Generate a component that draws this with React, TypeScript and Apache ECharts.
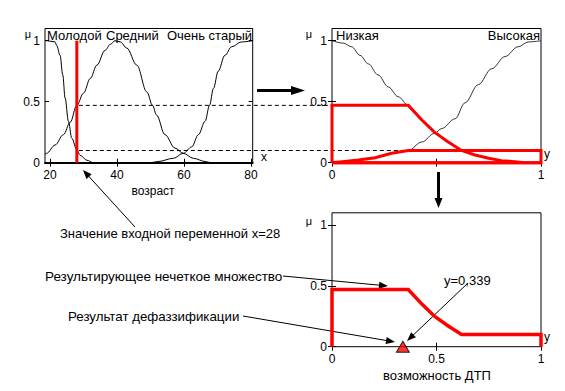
import React, { useEffect, useRef } from 'react';
import * as echarts from 'echarts';

// ---- data ----
const ageTicks = [20, 40, 60, 80];
const unitTicks = [0, 0.5, 1];
const inputAge = 28;
const cutLow = 0.47; // firing strength for "Низкая"
const cutHigh = 0.1; // firing strength for "Высокая"
const defuzzValue = 0.339;

const youngX = [18.5, 19, 21.5, 22, 23, 23.8, 24.5, 25.5, 26.5, 28, 29, 31, 33, 80.5];
const youngY = [1, 1, 0.99, 0.96, 0.88, 0.72, 0.53, 0.34, 0.2, 0.105, 0.06, 0.02, 0, 0];

const mediumX = [18.5, 19, 21.5, 24, 26, 28, 30, 32, 34, 36.4, 38, 39.4, 41, 42.9, 45.9, 48.9, 50.6, 51.8, 54.3, 57.3, 59.8, 62.8, 66.3, 68, 80.5];
const mediumY = [0.07, 0.077, 0.145, 0.23, 0.33, 0.47, 0.57, 0.69, 0.8, 0.92, 0.97, 1, 0.99, 0.94, 0.8, 0.58, 0.47, 0.39, 0.23, 0.12, 0.077, 0.036, 0.01, 0, 0];

const veryOldX = [18.5, 50, 52.3, 56.8, 59.8, 62.3, 64.3, 66.3, 67.6, 68.8, 70.2, 72.2, 74.2, 77.2, 80.5];
const veryOldY = [0, 0, 0.01, 0.036, 0.077, 0.13, 0.23, 0.34, 0.47, 0.61, 0.75, 0.88, 0.95, 0.99, 1];

const lowX = [0, 0.054, 0.094, 0.134, 0.174, 0.22, 0.27, 0.317, 0.365, 0.43, 0.49, 0.556, 0.62, 0.684, 0.75, 0.81, 0.876, 0.92, 1];
const lowY = [1, 0.98, 0.95, 0.88, 0.81, 0.72, 0.62, 0.54, 0.47, 0.35, 0.25, 0.17, 0.1, 0.063, 0.036, 0.017, 0.008, 0, 0];

const highX = [0, 0.06, 0.126, 0.206, 0.285, 0.365, 0.43, 0.49, 0.525, 0.589, 0.636, 0.7, 0.764, 0.828, 0.89, 0.94, 1];
const highY = [0, 0.01, 0.022, 0.04, 0.077, 0.1, 0.17, 0.24, 0.28, 0.36, 0.49, 0.64, 0.77, 0.87, 0.95, 0.99, 1];

const FONT = "'Liberation Sans', Arial, sans-serif";

const zip = (xs: number[], ys: number[]) => xs.map((x, i) => [x, ys[i]]);

function arrow(x1: number, y1: number, x2: number, y2: number, len: number, halfW: number, lineW: number) {
  const dx = x2 - x1;
  const dy = y2 - y1;
  const L = Math.hypot(dx, dy);
  const ux = dx / L;
  const uy = dy / L;
  const bx = x2 - ux * len;
  const by = y2 - uy * len;
  const px = -uy;
  const py = ux;
  return [
    { type: 'line', shape: { x1, y1, x2: bx + ux * 1, y2: by + uy * 1 }, style: { stroke: '#000', lineWidth: lineW } },
    {
      type: 'polygon',
      shape: { points: [[x2, y2], [bx + px * halfW, by + py * halfW], [bx - px * halfW, by - py * halfW]] },
      style: { fill: '#000' },
    },
  ];
}

function txt(text: string, x: number, y: number, size: number, align: string = 'left') {
  return {
    type: 'text',
    x,
    y,
    style: {
      text,
      fill: '#000',
      fontSize: size,
      fontFamily: FONT,
      align,
      verticalAlign: 'middle',
      textAlign: align,
      textVerticalAlign: 'middle',
    },
  };
}

export default function App() {
  const ref = useRef<HTMLDivElement>(null);
  useEffect(() => {
    const chart = echarts.init(ref.current!, null, { renderer: 'svg' });
    const gridBase = { show: true, borderColor: '#000', borderWidth: 1, backgroundColor: 'transparent' };
    const labelStyle = { color: '#000', fontSize: 12, fontFamily: FONT };

    const xBottom = (grid: number, min: number, max: number, ticks: number[], labels: number[], lineW: number) => ({
      type: 'value', gridIndex: grid, position: 'bottom', min, max,
      axisLine: { show: lineW > 1, lineStyle: { color: '#000', width: lineW } },
      axisTick: { show: true, inside: true, length: 4, customValues: ticks, lineStyle: { color: '#000' } },
      axisLabel: { ...labelStyle, margin: 6, customValues: labels },
      splitLine: { show: false },
    });
    const xTop = (grid: number, min: number, max: number, ticks: number[]) => ({
      type: 'value', gridIndex: grid, position: 'top', min, max,
      axisLine: { show: false },
      axisTick: { show: true, inside: true, length: 4, customValues: ticks, lineStyle: { color: '#000' } },
      axisLabel: { show: false },
      splitLine: { show: false },
    });
    const yLeft = (grid: number) => ({
      type: 'value', gridIndex: grid, position: 'left', min: 0, max: 1.1,
      axisLine: { show: false },
      axisTick: { show: true, inside: true, length: 4, customValues: unitTicks, lineStyle: { color: '#000' } },
      axisLabel: { ...labelStyle, margin: 5, customValues: unitTicks },
      splitLine: { show: false },
    });
    const yRight = (grid: number) => ({
      type: 'value', gridIndex: grid, position: 'right', min: 0, max: 1.1,
      axisLine: { show: false },
      axisTick: { show: true, inside: true, length: 4, customValues: unitTicks, lineStyle: { color: '#000' } },
      axisLabel: { show: false },
      splitLine: { show: false },
    });

    const blackLine = (name: string, xi: number, data: number[][], w = 1) => ({
      name, type: 'line', xAxisIndex: xi, yAxisIndex: xi, data,
      symbol: 'none', smooth: 0.35, smoothMonotone: 'x', clip: false,
      lineStyle: { color: '#000', width: w }, z: 2,
    });
    const redLine = (name: string, xi: number, data: number[][], w = 3) => ({
      name, type: 'line', xAxisIndex: xi, yAxisIndex: xi, data,
      symbol: 'none', smooth: false, clip: false,
      lineStyle: { color: '#ff0000', width: w, join: 'miter' }, z: 4,
    });

    const clippedLow = [[0, 0], ...zip(lowX, lowY.map((v) => Math.min(v, cutLow))), [0, 0]];
    const clippedHigh = [[0, 0], ...zip(highX, highY.map((v) => Math.min(v, cutHigh))), [1, 0], [0, 0]];
    const aggregated = [[0, 0], ...zip(lowX, lowY.map((v) => Math.max(Math.min(v, cutLow), cutHigh))), [1, 0]];

    chart.setOption({
      animation: false,
      backgroundColor: '#fff',
      grid: [
        { ...gridBase, left: 45, top: 28.5, width: 207.7, height: 134.2 },
        { ...gridBase, left: 332, top: 28.5, width: 209, height: 134.2 },
        { ...gridBase, left: 332, top: 212.8, width: 209, height: 133.9 },
      ],
      xAxis: [
        xBottom(0, 18.5, 80.5, ageTicks, ageTicks, 2),
        xBottom(1, 0, 1, unitTicks, [0, 1], 1),
        xBottom(2, 0, 1, unitTicks, unitTicks, 1),
        xTop(0, 18.5, 80.5, ageTicks),
        xTop(1, 0, 1, unitTicks),
        xTop(2, 0, 1, unitTicks),
      ],
      yAxis: [yLeft(0), yLeft(1), yLeft(2), yRight(0), yRight(1), yRight(2)],
      series: [
        blackLine('Молодой', 0, zip(youngX, youngY)),
        blackLine('Средний', 0, zip(mediumX, mediumY)),
        blackLine('Очень старый', 0, zip(veryOldX, veryOldY)),
        redLine('x=28', 0, [[inputAge, 0], [inputAge, 1]], 3),
        blackLine('Низкая', 1, zip(lowX, lowY), 0.8),
        blackLine('Высокая', 1, zip(highX, highY), 0.8),
        redLine('Низкая clipped', 1, clippedLow, 3),
        redLine('Высокая clipped', 1, clippedHigh, 3),
        redLine('Результирующее', 2, aggregated, 3.5),
        {
          name: 'defuzz', type: 'scatter', xAxisIndex: 2, yAxisIndex: 2,
          data: [[defuzzValue, 0]], symbol: 'triangle', symbolSize: [13, 11], clip: false,
          itemStyle: { color: '#ff0000', borderColor: '#000', borderWidth: 1 }, z: 6,
        },
      ],
    });

    const p = (g: number, v: number[]) => chart.convertToPixel({ xAxisIndex: g, yAxisIndex: g }, v) as number[];
    const highCrossX = highX[highY.findIndex((v) => v >= cutHigh)];
    const a1 = p(0, [inputAge, cutLow]);
    const a2 = p(1, [0, cutLow]);
    const b1 = p(0, [inputAge, cutHigh]);
    const b2 = p(1, [highCrossX, cutHigh]);
    const dash = { stroke: '#000', lineWidth: 1, lineDash: [4, 3] };

    chart.setOption({
      graphic: [
        { type: 'line', shape: { x1: a1[0] + 2, y1: a1[1], x2: a2[0], y2: a2[1] }, style: dash },
        { type: 'line', shape: { x1: b1[0] + 2, y1: b1[1], x2: b2[0], y2: b2[1] }, style: dash },
        txt('Молодой', 47, 35, 13),
        txt('Средний', 106, 35, 13),
        txt('Очень старый', 252, 35, 13, 'right'),
        txt('Низкая', 336, 35, 13),
        txt('Высокая', 540, 35, 13, 'right'),
        txt('μ', 28, 34, 11, 'center'),
        txt('μ', 309, 34, 11, 'center'),
        txt('μ', 309, 221, 11, 'center'),
        txt('x', 264, 157, 12, 'center'),
        txt('y', 547, 154, 12, 'center'),
        txt('y', 547, 337, 12, 'center'),
        txt('возраст', 153, 191, 12, 'center'),
        txt('возможность ДТП', 437, 375, 13, 'center'),
        txt('Значение входной переменной x=28', 60, 233, 13),
        txt('Результирующее нечеткое множество', 45, 276, 13.5),
        txt('Результат дефаззификации', 68, 316, 13.3),
        txt('y=0,339', 444, 280, 13),
        ...arrow(135, 227, 83, 170, 9, 3.5, 1),
        ...arrow(283, 276, 388, 286, 9, 3.5, 1),
        ...arrow(243, 316, 395, 342, 9, 3.5, 1),
        ...arrow(468, 283, 407, 341, 9, 3.5, 1),
        ...arrow(257, 90.5, 305, 90.5, 14, 4.5, 3),
        ...arrow(438.5, 172, 438.5, 208, 10, 4, 3),
      ],
    });

    return () => chart.dispose();
  }, []);
  return <div ref={ref} style={{ position: 'fixed', left: 0, top: 0, width: 565, height: 391, background: '#fff' }} />;
}
